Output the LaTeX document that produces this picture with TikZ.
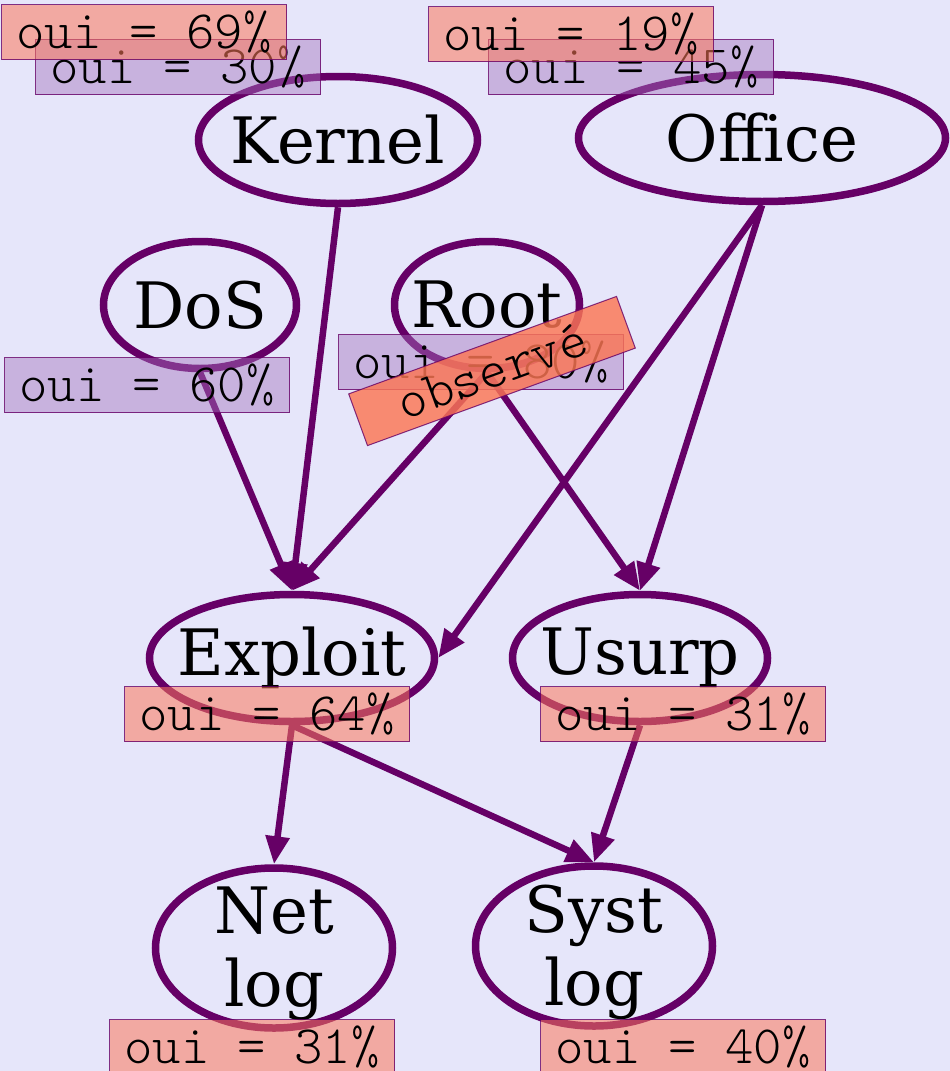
\documentclass[tikz,border=0pt]{standalone}
\usepackage{fontspec}
\setmainfont{DejaVu Serif}
\newfontfamily\labfont{Latin Modern Mono Light}
\usetikzlibrary{shapes.geometric,arrows.meta}
\definecolor{bg}{RGB}{230,230,250}
\definecolor{edgec}{RGB}{102,0,102}
\definecolor{redlab}{RGB}{252,120,90}
\definecolor{purplab}{RGB}{165,115,190}
\definecolor{obslab}{RGB}{252,118,84}
\begin{document}
\begin{tikzpicture}[x=1pt,y=-1pt,
  var/.style={ellipse, draw=edgec, line width=7.5pt, inner sep=0pt},
  vartext/.style={inner sep=0pt, align=center, font=\fontsize{64}{73}\selectfont},
  edge/.style={draw=edgec, line width=6.5pt, -{Triangle[length=28pt,width=23pt]}},
  lab/.style={rectangle, draw=edgec, draw opacity=0.8, line width=1pt, minimum width=285pt, minimum height=55pt, inner sep=0pt, text opacity=1, font=\labfont\fontsize{54}{54}\selectfont},
  redl/.style={lab, fill=redlab, fill opacity=0.55},
  purl/.style={lab, fill=purplab, fill opacity=0.45},
  obsl/.style={lab, fill=obslab, fill opacity=0.82}
  ]
\fill[bg] (0,0) rectangle (950,1071);
\useasboundingbox (0,0) rectangle (950,1071);
% variables
\node[var, minimum width=279pt, minimum height=127pt] (kernel) at (338,140) {};
\node[var, minimum width=367pt, minimum height=127pt] (office) at (762,138) {};
\node[var, minimum width=193pt, minimum height=127pt] (dos) at (200,305) {};
\node[var, minimum width=185pt, minimum height=127pt] (root) at (487,305) {};
\node[var, minimum width=285pt, minimum height=127pt] (exploit) at (292,658) {};
\node[var, minimum width=255pt, minimum height=127pt] (usurp) at (640,658) {};
\node[var, minimum width=237pt, minimum height=160pt] (netlog) at (274,948) {};
\node[var, minimum width=237pt, minimum height=160pt] (systlog) at (594,946) {};
\node[vartext] (kernelt) at (kernel) {Kernel};
\node[vartext] (officet) at (office) {Office};
\node[vartext] (dost) at (dos) {DoS};
\node[vartext] (roott) at (root) {Root};
\node[vartext] (exploitt) at (exploit) {Exploit};
\node[vartext] (usurpt) at (usurp) {Usurp};
\node[vartext] (netlogt) at ([yshift=-6pt]netlog.center) {Net\\log};
\node[vartext] (systlogt) at ([yshift=-6pt]systlog.center) {Syst\\log};
% edges
\draw[edge] (kernel.south) -- (exploit.north);
\draw[edge] (dos.south) -- (exploit.north);
\draw[edge] (root.south) -- (exploit.north);
\draw[edge] (office.south) -- (exploit.east);
\draw[edge] (root.south) -- (usurp.north);
\draw[edge] (office.south) -- (usurp.north);
\draw[edge] (exploit.south) -- (netlog.north);
\draw[edge] (exploit.south) -- (systlog.north);
\draw[edge] (usurp.south) -- (systlog.north);
% labels
\node[purl] (kp) at (178,67) {oui = 30\%};
\node[purl] (op) at (631,67) {oui = 45\%};
\node[purl] (dp) at (147,385) {oui = 60\%};
\node[purl] (rp) at (481,362) {oui = 80\%};
\node[redl] (kr) at (144,32) {oui = 69\%};
\node[redl] (or) at (571,34) {oui = 19\%};
\node[redl] (er) at (267,714) {oui = 64\%};
\node[redl] (ur) at (683,714) {oui = 31\%};
\node[redl] (nr) at (252,1047) {oui = 31\%};
\node[redl] (sr) at (683,1047) {oui = 40\%};
\node[obsl, rotate=20] (obs) at (492,371) {observé};
\end{tikzpicture}
\end{document}
